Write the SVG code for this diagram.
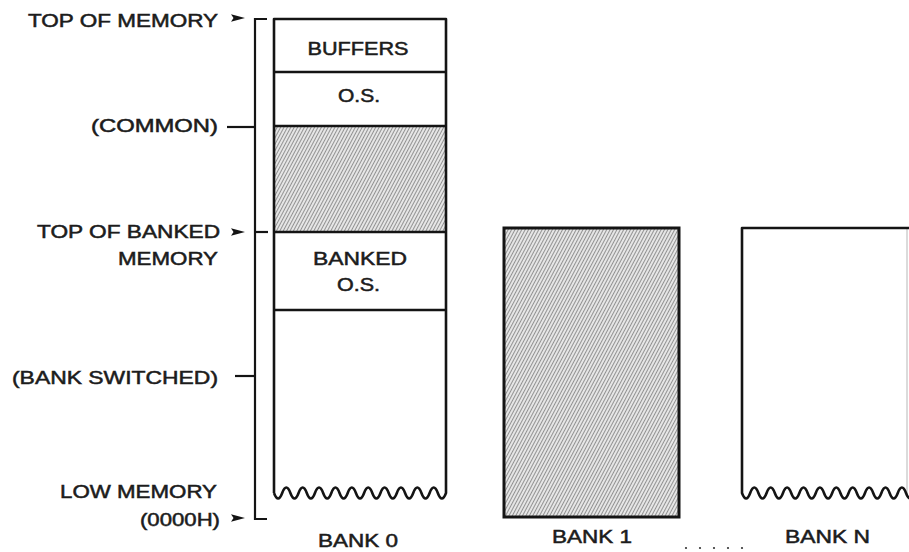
<svg xmlns="http://www.w3.org/2000/svg" width="909" height="552" viewBox="0 0 909 552">
<defs>
<style>
.t{font-family:"Liberation Sans",Arial,sans-serif;font-size:18px;fill:#1c1c1c;stroke:#1c1c1c;stroke-width:0.5;}
.e{text-anchor:end;}
.m{text-anchor:middle;}
.box{fill:none;stroke:#141414;stroke-width:2.6;stroke-linejoin:round;}
.div{stroke:#141414;stroke-width:2.4;}
.br{fill:none;stroke:#141414;stroke-width:2.2;}
.hat{fill:url(#hatch);}
</style>
<pattern id="hatch" patternUnits="userSpaceOnUse" width="3" height="10" patternTransform="rotate(28)">
<rect width="3" height="10" fill="#e6e6e6"/>
<line x1="1.5" y1="0" x2="1.5" y2="10" stroke="#929292" stroke-width="1"/>
</pattern>
<path id="ah" d="M0,-3.8 L14,0 L0,3.8 L2.5,0 Z" fill="#141414"/>
</defs>

<g id="connectors">
<path class="br" d="M267,19 H255 V519 H267"/>
<line class="br" x1="255" y1="232" x2="268" y2="232"/>
<line class="br" x1="227" y1="127" x2="255" y2="127"/>
<line class="br" x1="235" y1="376" x2="255" y2="376"/>
<use href="#ah" x="231" y="18"/>
<use href="#ah" x="231" y="232"/>
<use href="#ah" x="231" y="518"/>
</g>

<g id="label-top-of-memory"><text class="t e" x="218" y="27" textLength="190" lengthAdjust="spacingAndGlyphs">TOP OF MEMORY</text></g>
<g id="label-common"><text class="t e" x="218" y="132" textLength="127" lengthAdjust="spacingAndGlyphs">(COMMON)</text></g>
<g id="label-top-of-banked"><text class="t e" x="220" y="238" textLength="183" lengthAdjust="spacingAndGlyphs">TOP OF BANKED</text><text class="t e" x="218" y="265" textLength="100" lengthAdjust="spacingAndGlyphs">MEMORY</text></g>
<g id="label-bank-switched"><text class="t e" x="218" y="384" textLength="206" lengthAdjust="spacingAndGlyphs">(BANK SWITCHED)</text></g>
<g id="label-low-memory"><text class="t e" x="217" y="498" textLength="157" lengthAdjust="spacingAndGlyphs">LOW MEMORY</text><text class="t e" x="220" y="526" textLength="80" lengthAdjust="spacingAndGlyphs">(0000H)</text></g>

<g id="bank0">
<rect class="hat" x="274" y="126" width="172" height="106"/>
<path class="box" d="M274,493 V19 H446 V493 q-4.1,11 -8.19,0 t-8.19,0 t-8.19,0 t-8.19,0 t-8.19,0 t-8.19,0 t-8.19,0 t-8.19,0 t-8.19,0 t-8.19,0 t-8.19,0 t-8.19,0 t-8.19,0 t-8.19,0 t-8.19,0 t-8.19,0 t-8.19,0 t-8.19,0 t-8.19,0 t-8.19,0 t-8.19,0"/>
<line class="div" x1="274" y1="72" x2="446" y2="72"/>
<line class="div" x1="274" y1="126" x2="446" y2="126"/>
<line class="div" x1="274" y1="232" x2="446" y2="232"/>
<line class="div" x1="274" y1="310" x2="446" y2="310"/>
<g id="bank0-buffers"><text class="t m" x="358" y="55" textLength="101" lengthAdjust="spacingAndGlyphs">BUFFERS</text></g>
<g id="bank0-os"><text class="t m" x="359" y="102" textLength="42" lengthAdjust="spacingAndGlyphs">O.S.</text></g>
<g id="bank0-banked-os"><text class="t m" x="360" y="265" textLength="94" lengthAdjust="spacingAndGlyphs">BANKED</text><text class="t m" x="358.5" y="291" textLength="43" lengthAdjust="spacingAndGlyphs">O.S.</text></g>
<text class="t m" x="358" y="547" textLength="80" lengthAdjust="spacingAndGlyphs">BANK 0</text>
</g>

<g id="bank1">
<rect class="hat" x="504" y="228" width="175" height="289" stroke="#141414" stroke-width="3"/>
<text class="t m" x="592" y="543" textLength="80" lengthAdjust="spacingAndGlyphs">BANK 1</text>
</g>

<g id="bankN">
<path class="box" d="M912,228 H742 V493 q4.1,11 8.2,0 t8.2,0 t8.2,0 t8.2,0 t8.2,0 t8.2,0 t8.2,0 t8.2,0 t8.2,0 t8.2,0 t8.2,0 t8.2,0 t8.2,0 t8.2,0 t8.2,0 t8.2,0 t8.2,0 t8.2,0 t8.2,0 t8.2,0 t8.2,0"/>
<line x1="907" y1="228" x2="907" y2="494" stroke="#141414" stroke-width="1" opacity="0.3"/>
<text class="t m" x="827.5" y="543" textLength="85" lengthAdjust="spacingAndGlyphs">BANK N</text>
</g>

<g id="ellipsis" fill="#333">
<circle cx="686" cy="548" r="1.1"/><circle cx="700" cy="548" r="1.1"/><circle cx="714" cy="548" r="1.1"/><circle cx="728" cy="548" r="1.1"/><circle cx="742" cy="548" r="1.1"/>
</g>
</svg>
